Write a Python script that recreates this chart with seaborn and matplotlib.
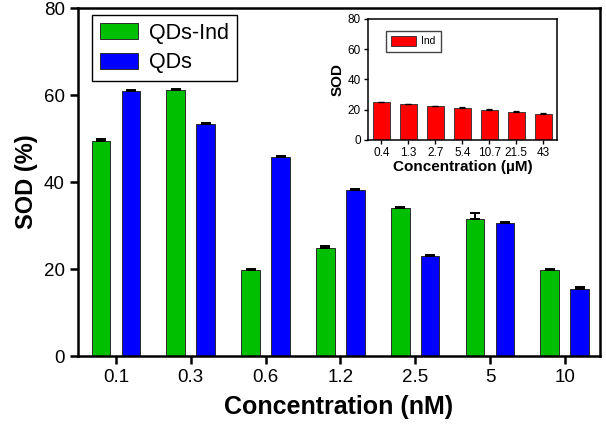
import pandas as pd
import seaborn as sns
import matplotlib.pyplot as plt
from matplotlib.patches import Patch

# main chart data
conc_nm = ['0.1', '0.3', '0.6', '1.2', '2.5', '5', '10']
sod_qds_ind = [49.5, 61.2, 19.8, 24.9, 34.0, 31.6, 19.8]
err_qds_ind = [0.5, 0.1, 0.3, 0.3, 0.3, 1.2, 0.3]
sod_qds = [60.9, 53.4, 45.8, 38.2, 23.0, 30.5, 15.4]
err_qds = [0.2, 0.3, 0.2, 0.3, 0.3, 0.3, 0.5]

# inset data
conc_um = ['0.4', '1.3', '2.7', '5.4', '10.7', '21.5', '43']
sod_ind = [24.8, 23.5, 22.3, 21.2, 20.0, 18.6, 17.4]
err_ind = [0.5, 0.3, 0.3, 0.2, 0.2, 0.2, 0.2]

groups = ['QDs-Ind', 'QDs']
colors = {'QDs-Ind': '#00bf00', 'QDs': '#0000ff'}

df = pd.DataFrame({
    'conc': conc_nm * 2,
    'sod': sod_qds_ind + sod_qds,
    'group': ['QDs-Ind'] * len(conc_nm) + ['QDs'] * len(conc_nm),
})

sns.set_style('white')
plt.rcParams['font.family'] = ['Liberation Sans', 'DejaVu Sans']
for k in ['text.color', 'axes.labelcolor', 'xtick.color', 'ytick.color']:
    plt.rcParams[k] = 'black'

fig = plt.figure(figsize=(6.06, 4.29), dpi=100)
ax = fig.add_axes([0.1287, 0.170, 0.8613, 0.811])

sns.barplot(data=df, x='conc', y='sod', hue='group', hue_order=groups,
            order=conc_nm, palette=colors, saturation=1, gap=0.375,
            errorbar=None, edgecolor='#2a2a2a', linewidth=0.7, ax=ax)

# one-sided error bars
for cont, errs in zip(ax.containers, [err_qds_ind, err_qds]):
    xs = [b.get_x() + b.get_width() / 2 for b in cont]
    ys = [b.get_height() for b in cont]
    ax.errorbar(xs, ys, yerr=[[0] * len(errs), errs], fmt='none',
                ecolor='black', elinewidth=1.4, capsize=3.5, capthick=1.4)

ax.set_ylim(0, 80)
ax.set_xlim(-0.507, 6.47)
ax.set_yticks([0, 20, 40, 60, 80])
ax.set_xlabel('Concentration (nM)', fontsize=18, fontweight='bold', labelpad=6)
ax.set_ylabel('SOD (%)', fontsize=17, fontweight='bold', labelpad=4)
ax.tick_params(axis='both', labelsize=13.5, direction='out', length=6,
               width=1.8, color='black', bottom=True, left=True)
for s in ax.spines.values():
    s.set_linewidth(1.8)
    s.set_color('black')

handles = [Patch(facecolor=colors[g], edgecolor='#2a2a2a', linewidth=0.7) for g in groups]
ax.legend(handles, groups, loc='upper left', bbox_to_anchor=(0.027, 0.98),
          borderaxespad=0, fontsize=15.5, frameon=True, fancybox=False,
          edgecolor='black', framealpha=1, handlelength=1.8, handleheight=0.8,
          labelspacing=0.4, borderpad=0.35, handletextpad=0.5)

# inset
ins = fig.add_axes([0.607, 0.674, 0.312, 0.282])
sns.barplot(x=conc_um, y=sod_ind, color='#ff0000', saturation=1, width=0.63,
            errorbar=None, edgecolor='#2a2a2a', linewidth=0.6, label='Ind', ax=ins)
bars = ins.containers[0]
xs = [b.get_x() + b.get_width() / 2 for b in bars]
ys = [b.get_height() for b in bars]
ins.errorbar(xs, ys, yerr=[[0] * len(err_ind), err_ind], fmt='none',
             ecolor='black', elinewidth=0.9, capsize=2.5, capthick=0.9)
ins.set_ylim(0, 80)
ins.set_xlim(-0.5, 6.5)
ins.set_yticks([0, 20, 40, 60, 80])
ins.set_xlabel('Concentration (\u00b5M)', fontsize=11, fontweight='bold', labelpad=1)
ins.set_ylabel('SOD', fontsize=11, fontweight='bold', labelpad=2)
ins.tick_params(axis='both', labelsize=8.5, direction='out', length=3,
                width=1.0, color='black', bottom=True, left=True, pad=2)
for s in ins.spines.values():
    s.set_linewidth(1.1)
    s.set_color('black')
ins.legend(loc='upper left', bbox_to_anchor=(0.095, 0.90), borderaxespad=0,
           fontsize=7.5, frameon=True, fancybox=False, edgecolor='#444444',
           framealpha=1, handlelength=2.4, handleheight=1.0, borderpad=0.5,
           handletextpad=0.5)

fig.savefig('out.png', dpi=100)
